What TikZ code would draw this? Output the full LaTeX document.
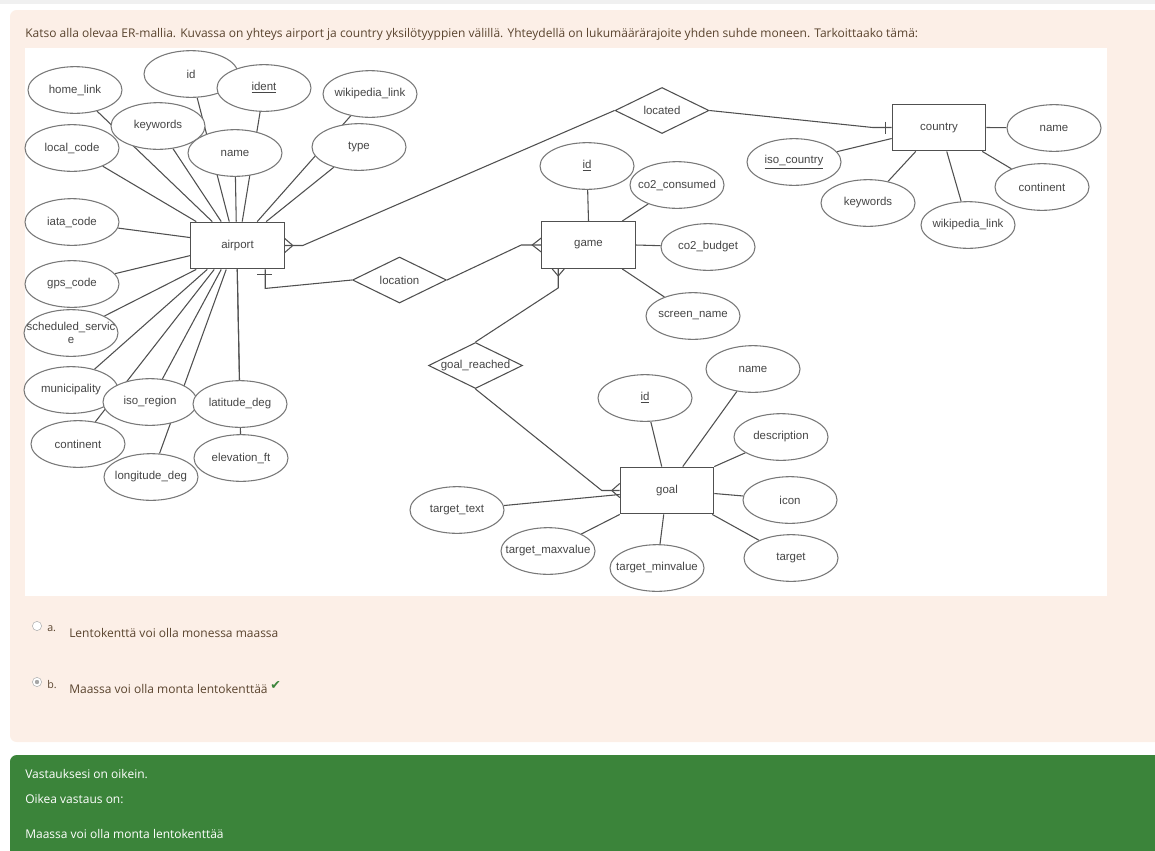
\documentclass[tikz,border=0pt]{standalone}
\usepackage{fontspec}
\setmainfont{Open Sans}
\newfontfamily\erfont{Liberation Sans}
\newfontfamily\tickfont{DejaVu Sans}
\usetikzlibrary{shapes.geometric,calc}

\definecolor{panelbg}{RGB}{252,239,231}
\definecolor{okgreen}{RGB}{59,132,58}
\definecolor{qtext}{RGB}{90,68,46}
\definecolor{erline}{RGB}{80,80,80}
\definecolor{erattr}{RGB}{120,120,120}
\definecolor{ertext}{RGB}{70,70,70}

\pgfdeclarelayer{bg}
\pgfdeclarelayer{links}
\pgfsetlayers{bg,links,main}

\begin{document}
\begin{tikzpicture}[x=0.75pt, y=-0.75pt,
    every node/.style={font=\erfont\fontsize{8.6}{9.8}\selectfont, text=ertext},
    entity/.style={draw=erline, fill=white, line width=0.9pt, minimum width=70pt,
        minimum height=35pt, inner sep=0pt},
    attr/.style={ellipse, draw=erattr, fill=white, line width=0.8pt,
        minimum width=70.5pt, minimum height=35pt, inner sep=0pt},
    rel/.style={diamond, aspect=2, draw=erline, fill=white, line width=0.8pt,
        minimum width=70.5pt, minimum height=34.5pt, inner sep=0pt},
    link/.style={draw=erline, line width=0.8pt},
    page/.style={font=\fontsize{9}{11}\selectfont, text=qtext, anchor=base west,
        inner sep=0pt}]
    \useasboundingbox (0,0) rectangle (1155,850);
    \clip (0,0) rectangle (1155,850);
    % page panels
    \begin{pgfonlayer}{bg}
        \fill[black!6] (0,0) rectangle (1155,4);
        \fill[panelbg, rounded corners=5] (10,10) rectangle (1170,742);
        \fill[white] (25,48) rectangle (1107,596);
        \fill[okgreen, rounded corners=5] (10,755) rectangle (1170,870);
    \end{pgfonlayer}
    \node[page] (question) at (25,37.5) {Katso alla olevaa ER-mallia. Kuvassa on yhteys airport ja country yksilötyyppien välillä. Yhteydellä on lukumäärärajoite yhden suhde moneen. Tarkoittaako tämä:};

    % entities and relationships
    \node[entity] (airport) at (237.5,245.5) {airport};
    \node[entity] (game) at (588.5,245) {game};
    \node[entity] (goal) at (667,490.5) {goal};
    \node[entity] (country) at (939,127.5) {country};
    \node[rel] (located) at (662,110.5) {located};
    \node[rel] (location) at (399.5,280) {location};
    \node[rel] (goalreached) at (475.5,365.5) {\makebox[0pt]{goal\_reached}};

    % attributes (text kept from widening the ellipse)
    \foreach \n/\x/\y/\t in {ap-home/75/90/home\_link, ap-id/191/74/id,
        ap-ident/264/88/\underline{ident}, ap-wiki/370/94/wikipedia\_link,
        ap-kw/158/126/keywords, ap-local/72/148/local\_code, ap-name/235/153/name,
        ap-type/359/147/type, ap-iata/72/222/iata\_code, ap-gps/72/284/gps\_code,
        ap-muni/71/390/municipality, ap-iso/150/402/iso\_region,
        ap-lat/240/404/latitude\_deg, ap-cont/78/444/continent,
        ap-elev/241/458/elevation\_ft, ap-long/151/477/longitude\_deg}
        \node[attr] (\n) at (\x,\y) {\makebox[0pt]{\t}};
    \node[attr] (ap-sched) at (71,333)
        {\makebox[0pt]{\shortstack{scheduled\_servic\\e}}};
    \foreach \n/\x/\y/\t in {g-id/587/166/\underline{id}, g-co2c/677/185/co2\_consumed,
        g-co2b/708/247/co2\_budget, g-screen/693/316/screen\_name,
        gl-id/645/398/\underline{id}, gl-name/753/369/name,
        gl-desc/781/437/description, gl-icon/790/500/icon, gl-target/791/558/target,
        gl-min/657/568/target\_minvalue, gl-max/548/551/target\_maxvalue,
        gl-text/457/510/target\_text, c-name/1054/128/name,
        c-iso/794/162/\underline{iso\_country}, c-kw/868/203/keywords,
        c-wiki/968/225/wikipedia\_link, c-cont/1042/187/continent}
        \node[attr] (\n) at (\x,\y) {\makebox[0pt]{\t}};

    \begin{pgfonlayer}{links}
        % airport attributes
        \foreach \a/\d in {ap-local/6, ap-home/22, ap-kw/31, ap-id/39, ap-name/46,
            ap-ident/52, ap-wiki/67, ap-type/76}
            \draw[link] (\a) -- ($(airport.north west)+(\d,0)$);
        \foreach \a/\d in {ap-iata/16, ap-gps/34}
            \draw[link] (\a) -- ($(airport.north west)+(0,\d)$);
        \foreach \a/\d in {ap-sched/6, ap-muni/17, ap-cont/24, ap-iso/31, ap-long/36,
            ap-lat/47, ap-elev/47}
            \draw[link] (\a) -- ($(airport.south west)+(\d,0)$);
        % game attributes
        \draw[link] (g-id) -- (game.north);
        \draw[link] (g-co2c) -- ($(game.north west)+(81,0)$);
        \draw[link] (g-co2b) -- (game.east);
        \draw[link] (g-screen) -- ($(game.south west)+(81,0)$);
        % goal attributes
        \draw[link] (gl-id) -- ($(goal.north west)+(42,0)$);
        \draw[link] (gl-name) -- ($(goal.north west)+(63,0)$);
        \draw[link] (gl-desc) -- (goal.north east);
        \draw[link] (gl-icon) -- ($(goal.east)+(0,3)$);
        \draw[link] (gl-target) -- ($(goal.south east)+(-2,0)$);
        \draw[link] (gl-min) -- ($(goal.south west)+(44,0)$);
        \draw[link] (gl-max) -- (goal.south west);
        \draw[link] (gl-text) -- ($(goal.west)+(0,4)$);
        % country attributes
        \draw[link] (c-name) -- (country.east);
        \draw[link] (c-iso) -- ($(country.west)+(0,11)$);
        \draw[link] (c-kw) -- ($(country.south west)+(24,0)$);
        \draw[link] (c-wiki) -- ($(country.south west)+(55,0)$);
        \draw[link] (c-cont) -- ($(country.south east)+(-4,0)$);

        % airport -- located -- country
        \draw[link] (airport.east) -- ++(18,0) -- (located.west);
        \draw[link] ($(airport.east)+(0,-7)$) -- ($(airport.east)+(8,0)$)
            -- ($(airport.east)+(0,7)$);
        \draw[link] (located.east) -- ($(country.west)+(-19,0)$) -- (country.west);
        \draw[link] ($(country.west)+(-6,-6)$) -- ($(country.west)+(-6,6)$);
        % airport -- location -- game
        \draw[link] ($(airport.south west)+(75,0)$) -- ++(0,19) -- (location.west);
        \draw[link] ($(airport.south west)+(67,5)$) -- ++(15,0);
        \draw[link] (location.east) -- ($(game.west)+(-20,0)$) -- (game.west);
        \draw[link] ($(game.west)+(0,-7)$) -- ($(game.west)+(-9,0)$)
            -- ($(game.west)+(0,7)$);
        % game -- goal_reached -- goal
        \draw[link] ($(game.south west)+(17,0)$) -- ++(0,19) -- (goalreached.north);
        \draw[link] ($(game.south west)+(11,0)$) -- ($(game.south west)+(17,7)$)
            -- ($(game.south west)+(23,0)$);
        \draw[link] (goalreached.south) -- ($(goal.west)+(-18,0)$) -- (goal.west);
        \draw[link] ($(goal.west)+(0,-7)$) -- ($(goal.west)+(-8,0)$)
            -- ($(goal.west)+(0,7)$);
    \end{pgfonlayer}

    % answers
    \draw[black!30, fill=white] (37,626) circle (4.6);
    \draw[black!30, fill=white] (37,682) circle (4.6);
    \fill[black!35] (37,682) circle (2.2);
    \node[page, font=\fontsize{8}{9}\selectfont] (opt-a) at (47,631) {a.};
    \node[page, font=\fontsize{8}{9}\selectfont] (opt-b) at (47,688) {b.};
    \node[page] (ans-a) at (69,637) {Lentokenttä voi olla monessa maassa};
    \node[page] (ans-b) at (69,693) {Maassa voi olla monta lentokenttää};
    \node[page, text=okgreen, font=\tickfont\fontsize{9.5}{10}\selectfont] (tick)
        at (270,689) {✔};
    \node[page, text=white] (fb-1) at (25,778) {Vastauksesi on oikein.};
    \node[page, text=white] (fb-2) at (25,803) {Oikea vastaus on:};
    \node[page, text=white] (fb-3) at (25,838) {Maassa voi olla monta lentokenttää};
\end{tikzpicture}
\end{document}
